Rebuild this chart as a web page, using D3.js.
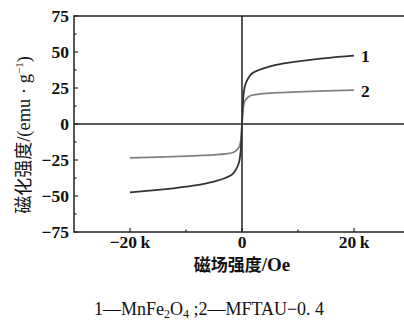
<!DOCTYPE html>
<html><head><meta charset="utf-8">
<script src="https://cdn.jsdelivr.net/npm/d3@7"></script>
<style>body{margin:0;background:#fff}svg{display:block}</style>
</head><body>
<svg id="c" width="404" height="324"></svg>
<script>
const field = [-20000,-15000,-10000,-7000,-5000,-3000,-1600,-1000,-700,-400,-200,-100,0,100,200,400,700,1000,1600,3000,5000,7000,10000,15000,20000];
const m1 = [-47.5,-45.8,-43.5,-41.7,-40,-37.5,-34.5,-31,-28.5,-24,-17,-10,0,10,17,24,28.5,31,34.5,37.5,40,41.7,43.5,45.8,47.5];
const m2 = [-23.5,-23,-22.3,-21.8,-21.4,-20.8,-19.8,-18.3,-17,-15,-11,-7,0,7,11,15,17,18.3,19.8,20.8,21.4,21.8,22.3,23,23.5];
const xTicks = [-20000,0,20000];
const xTickLabels = ["\u221220\u2009k","0","20\u2009k"];
const yTicks = [-75,-50,-25,0,25,50,75];
const yTickLabels = ["\u221275","\u221250","\u221225","0","25","50","75"];
const seriesLabels = ["1","2"];

const svg = d3.select("#c");
const x = d3.scaleLinear().domain([-30000,30000]).range([74,410]);
const y = d3.scaleLinear().domain([-75,75]).range([232,16]);
const serif = "'Liberation Serif','DejaVu Serif',serif";
const cjk = "'Noto Sans CJK SC',sans-serif";

// frame
svg.append("rect").attr("x",74).attr("y",16).attr("width",336).attr("height",216)
  .attr("fill","none").attr("stroke","#222").attr("stroke-width",1.5);
// zero lines
svg.append("line").attr("x1",74).attr("x2",410).attr("y1",y(0)).attr("y2",y(0)).attr("stroke","#222").attr("stroke-width",1.5);
svg.append("line").attr("x1",x(0)).attr("x2",x(0)).attr("y1",16).attr("y2",232).attr("stroke","#222").attr("stroke-width",1.5);

// x ticks (inward)
d3.range(-20000,30001,10000).forEach(v=>{
  const major = v%20000===0;
  svg.append("line").attr("x1",x(v)).attr("x2",x(v)).attr("y1",232).attr("y2",232-(major?4:2.5)).attr("stroke","#222").attr("stroke-width",1.2);
});
xTicks.forEach((v,i)=>{
  svg.append("text").attr("x",x(v)).attr("y",247.5).attr("text-anchor","middle")
    .attr("font-family",serif).attr("font-weight","bold").attr("font-size",17.5).attr("fill","#111").text(xTickLabels[i]);
});
// y ticks
d3.range(-75,75.1,12.5).forEach(v=>{
  const major = Math.abs(v%25)<1e-9;
  svg.append("line").attr("x1",74).attr("x2",74+(major?4:2.5)).attr("y1",y(v)).attr("y2",y(v)).attr("stroke","#222").attr("stroke-width",1.2);
});
yTicks.forEach((v,i)=>{
  svg.append("text").attr("x",69).attr("y",y(v)+6).attr("text-anchor","end")
    .attr("font-family",serif).attr("font-weight","bold").attr("font-size",17.5).attr("fill","#111").text(yTickLabels[i]);
});

// curves
const line = d3.line().x(d=>x(d[0])).y(d=>y(d[1])).curve(d3.curveMonotoneX);
svg.append("path").datum(field.map((f,i)=>[f,m2[i]])).attr("d",line).attr("fill","none").attr("stroke","#808080").attr("stroke-width",1.8);
svg.append("path").datum(field.map((f,i)=>[f,m1[i]])).attr("d",line).attr("fill","none").attr("stroke","#333").attr("stroke-width",1.8);

// series labels
svg.append("text").attr("x",x(20000)+7).attr("y",y(m1[m1.length-1])+6).attr("font-family",serif).attr("font-weight","bold").attr("font-size",17.5).attr("fill","#111").text(seriesLabels[0]);
svg.append("text").attr("x",x(20000)+7).attr("y",y(m2[m2.length-1])+7).attr("font-family",serif).attr("font-weight","bold").attr("font-size",17.5).attr("fill","#111").text(seriesLabels[1]);

// axis titles
const yt = svg.append("text").attr("transform","translate(30,135) rotate(-90)").attr("text-anchor","middle")
  .attr("font-size",18.5).attr("fill","#111");
yt.append("tspan").attr("font-family",cjk).attr("font-size",18).text("磁化强度");
yt.append("tspan").attr("font-family",serif).text("/(emu \u00b7 g");
yt.append("tspan").attr("font-family",serif).attr("font-size",11).attr("dy",-7).text("\u22121");
yt.append("tspan").attr("font-family",serif).attr("dy",7).text(")");

const xt = svg.append("text").attr("x",242).attr("y",271).attr("text-anchor","middle").attr("font-size",17).attr("fill","#111");
xt.append("tspan").attr("font-family",cjk).attr("font-weight","bold").text("磁场强度");
xt.append("tspan").attr("font-family",serif).attr("font-weight","bold").attr("font-size",19).text("/Oe");

// caption
const cap = svg.append("text").attr("x",209).attr("y",315).attr("text-anchor","middle").attr("font-family",serif).attr("font-size",18).attr("fill","#111");
cap.append("tspan").text("1\u2014MnFe");
cap.append("tspan").attr("font-size",12).attr("dy",3).text("2");
cap.append("tspan").attr("dy",-3).text("O");
cap.append("tspan").attr("font-size",12).attr("dy",3).text("4");
cap.append("tspan").attr("dy",-3).text(" ;2\u2014MFTAU\u22120. 4");
</script>
</body></html>
